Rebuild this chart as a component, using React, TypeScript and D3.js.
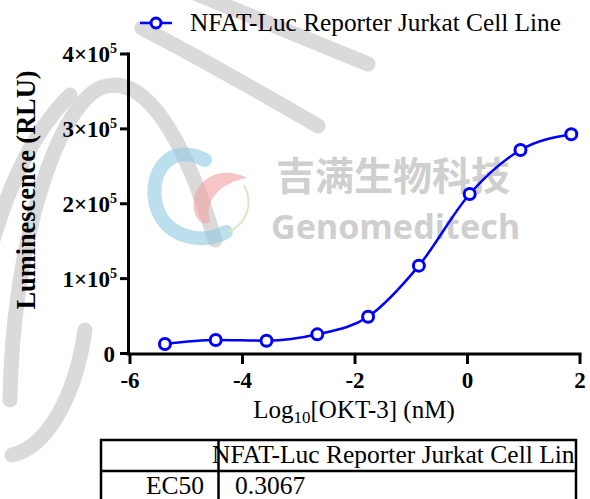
import React from "react";
import * as d3 from "d3";

// Data: log10 concentration of OKT-3 (nM) and luminescence (RLU)
const logConc = [-5.379, -4.476, -3.573, -2.67, -1.767, -0.864, 0.039, 0.942, 1.845];
const luminescence = [12700, 18000, 17100, 25600, 49100, 117300, 213000, 271800, 292800];
const xTicks = [-6, -4, -2, 0, 2];
const yTicks = [0, 1, 2, 3, 4]; // ×10^5
const seriesName = "NFAT-Luc Reporter Jurkat Cell Line";
const tableHeader = "NFAT-Luc Reporter Jurkat Cell Lin";
const tableRowLabel = "EC50";
const tableRowValue = "0.3067";

const W = 590;
const H = 499;
const BLUE = "#0000ff";
const SERIF = "'Liberation Serif', 'Times New Roman', serif";

export default function App() {
  const x = d3.scaleLinear().domain([-6, 2]).range([130, 580]);
  const y = d3.scaleLinear().domain([0, 400000]).range([353.5, 54]);
  const pts = logConc.map((v, i) => [x(v), y(luminescence[i])] as [number, number]);
  const line = d3.line().curve(d3.curveMonotoneX)(pts) || "";

  const wm = "#dadada";
  return (
    <svg
      width={W}
      height={H}
      viewBox={`0 0 ${W} ${H}`}
      style={{ position: "absolute", left: 0, top: 0, background: "#fff" }}
    >
      <rect x={0} y={0} width={W} height={H} fill="#fff" />
      {/* watermark */}
      <g fill="none" stroke={wm} strokeWidth={15} strokeLinecap="round">
        <path d="M192,-8 L368,64" />
        <path d="M142,28 C200,58 270,98 318,126" />
        <path d="M10,400 C12,250 55,110 100,88 C145,70 185,140 215,240" />
        <path d="M-10,250 C10,180 35,130 70,95" />
        <path d="M85,330 C75,400 45,448 12,455" />
      </g>
      <g opacity={0.6}>
        <path
          d="M205,160 C172,142 148,170 156,205 C164,236 200,246 226,232"
          fill="none"
          stroke="#8fcbe0"
          strokeWidth={14}
          strokeLinecap="round"
        />
        <path
          d="M247,178 C217,163 190,183 194,210 C197,222 204,226 210,222 C204,200 220,183 247,178 Z"
          fill="#f2a0a0"
        />
        <path d="M244,185 C255,205 245,225 228,232" fill="none" stroke="#b9dca0" strokeWidth={2} />
      </g>
      <text
        x={276}
        y={190}
        fontFamily="'Noto Sans CJK SC', sans-serif"
        fontWeight={700}
        fontSize={39}
        fill="#cfcfcf"
      >
        吉满生物科技
      </text>
      <text
        x={271}
        y={239}
        fontFamily="'Noto Sans', sans-serif"
        fontWeight={700}
        fontSize={34}
        fill="#cfcfcf"
        textLength={249}
      >
        Genomeditech
      </text>

      {/* legend */}
      <line x1={140} x2={172} y1={23} y2={23} stroke={BLUE} strokeWidth={2.5} />
      <circle cx={156} cy={23} r={5} fill="#fff" stroke={BLUE} strokeWidth={3} />
      <text x={190} y={31} fontFamily={SERIF} fontSize={25.3} fill="#000">
        {seriesName}
      </text>

      {/* axes */}
      <g stroke="#000" strokeWidth={3} strokeLinecap="butt">
        <line x1={128.5} x2={128.5} y1={52.5} y2={355} />
        <line x1={127} x2={581.5} y1={354} y2={354} />
        {yTicks.map((t) => (
          <line key={"yt" + t} x1={120} x2={128.5} y1={y(t * 1e5)} y2={y(t * 1e5)} />
        ))}
        {xTicks.map((t) => (
          <line key={"xt" + t} x1={x(t)} x2={x(t)} y1={354} y2={364} />
        ))}
      </g>
      <g fontFamily={SERIF} fontWeight={700} fontSize={23} fill="#000">
        {yTicks.map((t) =>
          t === 0 ? (
            <text key={"yl" + t} x={115} y={y(0) + 8} textAnchor="end">
              0
            </text>
          ) : (
            <text key={"yl" + t} x={117} y={y(t * 1e5) + 8} textAnchor="end">
              {t}×10
              <tspan fontSize={14} dy={-9}>
                5
              </tspan>
            </text>
          )
        )}
        {xTicks.map((t) => (
          <text key={"xl" + t} x={x(t)} y={388} textAnchor="middle">
            {t < 0 ? "-" + Math.abs(t) : String(t)}
          </text>
        ))}
      </g>
      <text
        transform="translate(35,190) rotate(-90)"
        textAnchor="middle"
        fontFamily={SERIF}
        fontWeight={700}
        fontSize={26.3}
        fill="#000"
      >
        Luminescence (RLU)
      </text>
      <text x={354} y={418} textAnchor="middle" fontFamily={SERIF} fontSize={25} fill="#000">
        Log
        <tspan fontSize={17} dy={5}>
          10
        </tspan>
        <tspan dy={-5}>[OKT-3] (nM)</tspan>
      </text>

      {/* curve & points */}
      <path d={line} fill="none" stroke={BLUE} strokeWidth={2.5} />
      {pts.map(([px, py], i) => (
        <circle key={i} cx={px} cy={py} r={5.5} fill="#fff" stroke={BLUE} strokeWidth={3} />
      ))}

      {/* table */}
      <defs>
        <clipPath id="hdrclip">
          <rect x={100} y={439} width={476} height={33} />
        </clipPath>
      </defs>
      <text
        x={212}
        y={463}
        fontFamily={SERIF}
        fontSize={25.5}
        fill="#000"
        clipPath="url(#hdrclip)"
      >
        {tableHeader}
      </text>
      <text x={204} y={494} textAnchor="end" fontFamily={SERIF} fontSize={25.5} fill="#000">
        {tableRowLabel}
      </text>
      <text x={235} y={494} fontFamily={SERIF} fontSize={25.5} fill="#000">
        {tableRowValue}
      </text>
      <g stroke="#000" strokeWidth={2.5} fill="none">
        <line x1={100} x2={577} y1={440} y2={440} />
        <line x1={100} x2={577} y1={471} y2={471} />
        <line x1={101} x2={101} y1={439} y2={H + 2} />
        <line x1={218.5} x2={218.5} y1={439} y2={H + 2} />
        <line x1={576} x2={576} y1={439} y2={H + 2} />
      </g>
    </svg>
  );
}
